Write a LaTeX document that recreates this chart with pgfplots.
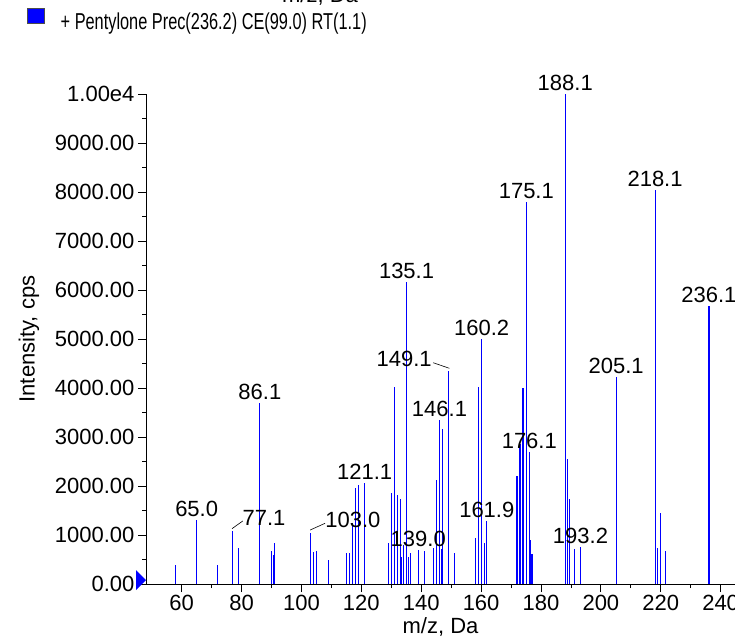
\documentclass[border=0pt]{standalone}
\usepackage{pgfplots}
\pgfplotsset{compat=1.18}
\usepackage{pgfplotstable}
\usepackage{fontspec}
\setmainfont{Liberation Sans}
\usepackage{graphicx}

\definecolor{peakblue}{RGB}{0,0,255}

% all peaks of the spectrum: m/z, intensity (cps)
\pgfplotstableread{
mz val
58.0 394
65.0 1300
72.0 388
77.1 1082
79.0 735
86.1 3687
90.0 667
90.6 599
91.0 830
103.0 1041
104.0 653
105.0 673
109.0 483
115.0 639
116.0 633
117.0 1240
118.0 1952
119.0 2014
121.1 2061
129.0 844
130.0 1850
131.0 4027
132.0 1816
133.0 1735
133.4 558
134.1 789
135.1 6157
135.7 544
136.4 626
139.0 694
141.0 680
144.0 741
145.0 2122
146.1 3347
146.7 707
147.1 3156
149.1 4347
151.0 626
158.0 939
159.0 4027
160.2 4993
161.0 830
161.9 1286
172.0 2204
173.0 2850
174.0 3993
175.1 7789
176.1 2694
176.5 898
177.0 612
188.1 9993
189.0 2558
189.6 1741
191.3 714
193.2 748
205.1 4224
218.1 8034
218.8 735
219.8 1442
221.7 680
236.1 5680
}\peaks

% peaks labelled straight above
\pgfplotstableread{
mz val label
65.0 1300 65.0
86.1 3687 86.1
121.1 2061 121.1
135.1 6157 135.1
139.0 694 139.0
146.1 3347 146.1
160.2 4993 160.2
161.9 1286 161.9
175.1 7789 175.1
176.1 2694 176.1
188.1 9993 188.1
193.2 748 193.2
205.1 4224 205.1
218.1 8034 218.1
236.1 5680 236.1
}\labeled

\begin{document}
\begin{tikzpicture}[font=\fontsize{22}{26}\selectfont]
\begin{axis}[
    at={(146pt,57pt)}, anchor=south west,
    scale only axis,
    width=589pt, height=490pt,
    xmin=48.08, xmax=244.8,
    ymin=0, ymax=10000,
    clip=false,
    axis x line*=bottom,
    axis y line*=left,
    axis line style={black, line width=0.8pt},
    tick style={black, line width=0.8pt},
    tick align=outside,
    major tick length=8pt,
    minor tick length=4pt,
    xtick={60,80,...,240},
    minor x tick num=1,
    ytick={0,1000,...,10000},
    yticklabels={0.00,1000.00,2000.00,3000.00,4000.00,5000.00,6000.00,7000.00,8000.00,9000.00,1.00e4},
    scaled y ticks=false,
    minor y tick num=1,
    /pgf/number format/assume math mode=true,
    xlabel={m/z, Da},
    ylabel={Intensity, cps},
    ylabel shift=9pt,
    every node near coord/.append style={font=\fontsize{22}{26}\selectfont, anchor=south, inner sep=1pt, yshift=2pt, black},
]
\addplot[ycomb, draw=peakblue, line width=1.1pt, mark=none] table[x=mz, y=val] {\peaks};
\addplot[only marks, mark=none, nodes near coords, point meta=explicit symbolic]
    table[x=mz, y=val, meta=label] {\labeled};

% labels set aside with a leader line
\node at (axis cs:87.5,1347) {77.1};
\draw[black, line width=0.6pt] (axis cs:76.8,1129) -- (axis cs:80.4,1286);
\node at (axis cs:117.2,1306) {103.0};
\draw[black, line width=0.6pt] (axis cs:102.9,1102) -- (axis cs:107.9,1239);
\node at (axis cs:134.3,4586) {149.1};
\draw[black, line width=0.6pt] (axis cs:144.0,4516) -- (axis cs:149.4,4402);
\end{axis}

% zero marker on the y axis
\fill[peakblue] (136pt,71pt) -- (146pt,61pt) -- (136pt,51pt) -- cycle;

% legend
\filldraw[fill=peakblue, draw=black!70, line width=0.6pt] (27pt,618pt) rectangle (44pt,633pt);
\node[anchor=west, inner sep=0pt, font=\fontsize{23}{27}\selectfont] at (60.5pt,617.7pt)
    {\scalebox{0.71}[1]{+ Pentylone Prec(236.2) CE(99.0) RT(1.1)}};

% bottom of the axis title of the panel above
\node[anchor=base] at (320pt,638.5pt) {m/z, Da};

\pgfresetboundingbox
\path[use as bounding box] (0,0) rectangle (735pt,641pt);
\end{tikzpicture}
\end{document}
